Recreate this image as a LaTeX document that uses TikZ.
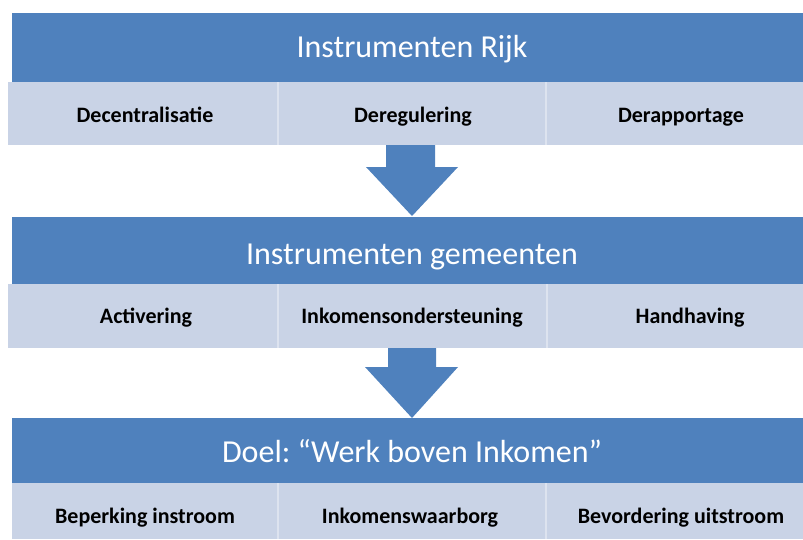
\documentclass[tikz,border=0pt]{standalone}
\usepackage{fontspec}
\setmainfont{Carlito}
\frenchspacing
\definecolor{hdrblue}{HTML}{4F81BD}
\definecolor{rowblue}{HTML}{C9D3E6}
\definecolor{divline}{HTML}{DDE3EF}
\begin{document}
\begin{tikzpicture}[x=1pt,y=-1pt,
  hdr/.style={fill=hdrblue,draw=none,inner sep=0pt,anchor=north west},
  cell/.style={fill=rowblue,draw=none,inner sep=0pt,anchor=north west},
  htext/.style={anchor=base,inner sep=0pt,text=white,font=\fontsize{32}{36}\selectfont},
  ctext/.style={anchor=base,inner sep=0pt,text=black,font=\bfseries\fontsize{22}{26}\selectfont},
  divider/.style={divline,line width=1.5pt}]
\useasboundingbox (0,0) rectangle (803,539);
% block 1
\node[hdr,minimum width=791pt,minimum height=69pt] (h1) at (12,13) {};
\node[htext] (t1) at (412,57) {Instrumenten Rijk};
\node[cell,minimum width=270pt,minimum height=63pt] (a1) at (8,82) {};
\node[cell,minimum width=268pt,minimum height=63pt] (a2) at (278,82) {};
\node[cell,minimum width=257pt,minimum height=63pt] (a3) at (546,82) {};
\node[ctext] (la1) at (145,122) {Decentralisatie};
\node[ctext] (la2) at (413,122) {Deregulering};
\node[ctext] (la3) at (681,122) {Derapportage};
\draw[divider] (a2.north west) -- (a2.south west);
\draw[divider] (a3.north west) -- (a3.south west);
% arrow 1
\fill[hdrblue] (386,145) -- (435,145) -- (435,167) -- (458,167) -- (412,216) -- (366,167) -- (386,167) -- cycle;
% block 2
\node[hdr,minimum width=791pt,minimum height=67pt] (h2) at (12,217) {};
\node[htext] (t2) at (412,264) {Instrumenten gemeenten};
\node[cell,minimum width=270pt,minimum height=64pt] (b1) at (8,284) {};
\node[cell,minimum width=269pt,minimum height=64pt] (b2) at (278,284) {};
\node[cell,minimum width=256pt,minimum height=64pt] (b3) at (547,284) {};
\node[ctext] (lb1) at (146,323) {Activering};
\node[ctext] (lb2) at (412,323) {Inkomensondersteuning};
\node[ctext] (lb3) at (690,323) {Handhaving};
\draw[divider] (b2.north west) -- (b2.south west);
\draw[divider] (b3.north west) -- (b3.south west);
% arrow 2
\fill[hdrblue] (388,348) -- (436,348) -- (436,367) -- (458,367) -- (412,418) -- (365,367) -- (388,367) -- cycle;
% block 3
\node[hdr,minimum width=791pt,minimum height=66pt] (h3) at (12,418) {};
\node[htext] (t3) at (412,462) {Doel: “Werk boven Inkomen”};
\node[cell,minimum width=266pt,minimum height=56pt] (c1) at (12,483) {};
\node[cell,minimum width=268pt,minimum height=56pt] (c2) at (278,483) {};
\node[cell,minimum width=257pt,minimum height=56pt] (c3) at (546,483) {};
\node[ctext] (lc1) at (145,523) {Beperking instroom};
\node[ctext] (lc2) at (410,523) {Inkomenswaarborg};
\node[ctext] (lc3) at (681,523) {Bevordering uitstroom};
\draw[divider] (c2.north west) -- (c2.south west);
\draw[divider] (c3.north west) -- (c3.south west);
\end{tikzpicture}
\end{document}
